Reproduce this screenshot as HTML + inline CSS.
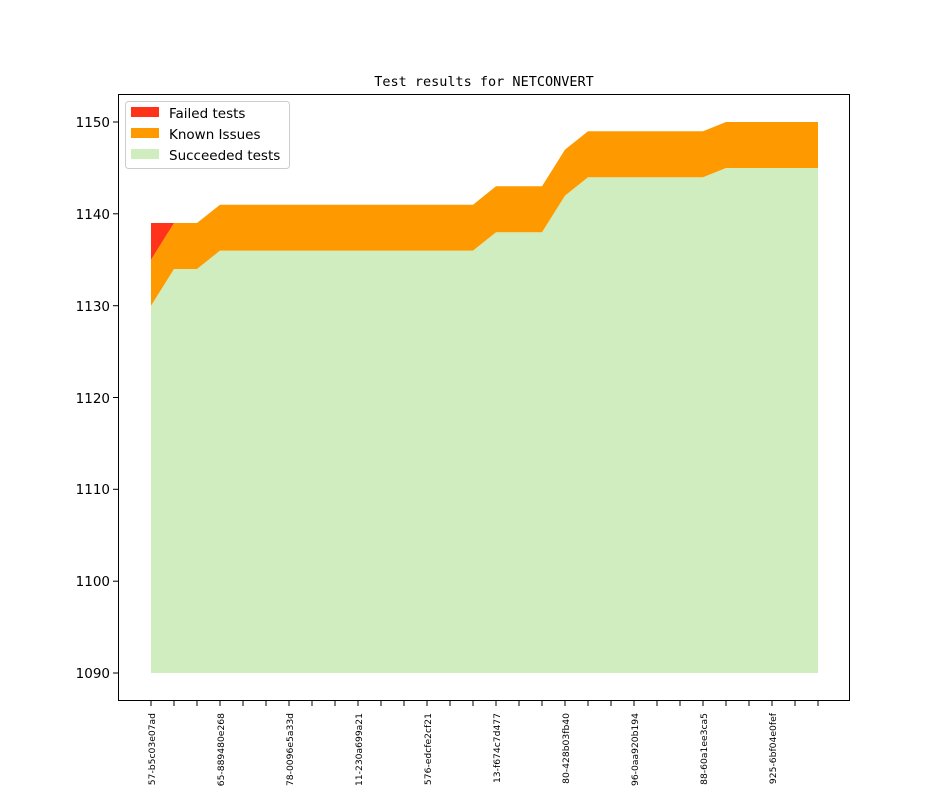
<!DOCTYPE html>
<html><head><style>html,body{margin:0;background:#fff;overflow:hidden;width:944px;height:787px}svg{display:block}</style></head><body>
<svg width="944" height="787" xmlns="http://www.w3.org/2000/svg" font-family="DejaVu Sans, sans-serif">
<rect width="944" height="787" fill="#fff"/>
<text x="484" y="86" font-family="DejaVu Sans Mono, monospace" font-size="13.5" text-anchor="middle">Test results for NETCONVERT</text>
<polygon fill="#cfedbe" points="151,673 151,305.7 174,269 197,269 220,250.6 473,250.6 496,232.3 542,232.3 565,195.6 588,177.2 703,177.2 726,168 818,168 818,673"/>
<polygon fill="#ff9900" points="151,305.7 174,269 197,269 220,250.6 473,250.6 496,232.3 542,232.3 565,195.6 588,177.2 703,177.2 726,168 818,168 818,122 726,122 703,131.3 588,131.3 565,149.6 542,186.3 496,186.3 473,204.7 220,204.7 197,223 174,223 151,259.7"/>
<polygon fill="#ff3319" points="151,259.7 174,223 151,223"/>
<rect x="118.5" y="94.5" width="731" height="606" fill="none" stroke="#000" stroke-width="1"/>
<g font-size="13.5" text-anchor="end">
<line x1="113" x2="118" y1="122" y2="122" stroke="#000"/><text x="110" y="127">1150</text>
<line x1="113" x2="118" y1="213.8" y2="213.8" stroke="#000"/><text x="110" y="219">1140</text>
<line x1="113" x2="118" y1="305.7" y2="305.7" stroke="#000"/><text x="110" y="311">1130</text>
<line x1="113" x2="118" y1="397.5" y2="397.5" stroke="#000"/><text x="110" y="403">1120</text>
<line x1="113" x2="118" y1="489.3" y2="489.3" stroke="#000"/><text x="110" y="494">1110</text>
<line x1="113" x2="118" y1="581.2" y2="581.2" stroke="#000"/><text x="110" y="586">1100</text>
<line x1="113" x2="118" y1="673" y2="673" stroke="#000"/><text x="110" y="678">1090</text>
</g>
<g stroke="#000">
<path d="M151,701v5M174,701v5M197,701v5M220,701v5M243,701v5M266,701v5M289,701v5M312,701v5M335,701v5M358,701v5M381,701v5M404,701v5M427,701v5M450,701v5M473,701v5M496,701v5M519,701v5M542,701v5M565,701v5M588,701v5M611,701v5M634,701v5M657,701v5M680,701v5M703,701v5M726,701v5M749,701v5M772,701v5M795,701v5M818,701v5"/>
</g>
<g font-size="9.2" text-anchor="end">
<text transform="translate(155,713) rotate(-90)">57-b5c03e07ad</text>
<text transform="translate(224,713) rotate(-90)">65-889480e268</text>
<text transform="translate(293,713) rotate(-90)">78-0096e5a33d</text>
<text transform="translate(362,713) rotate(-90)">11-230a699a21</text>
<text transform="translate(431,713) rotate(-90)">576-edcfe2cf21</text>
<text transform="translate(500,713) rotate(-90)">13-f674c7d477</text>
<text transform="translate(569,713) rotate(-90)">80-428b03fb40</text>
<text transform="translate(638,713) rotate(-90)">96-0aa920b194</text>
<text transform="translate(707,713) rotate(-90)">88-60a1ee3ca5</text>
<text transform="translate(776,713) rotate(-90)">925-6bf04e0fef</text>
</g>
<rect x="125.5" y="101.5" width="164" height="67" rx="3" fill="#fff" fill-opacity="0.8" stroke="#ccc"/>
<rect x="131" y="107" width="28" height="10" fill="#ff3319"/>
<rect x="131" y="128" width="28" height="10" fill="#ff9900"/>
<rect x="131" y="149" width="28" height="10" fill="#cfedbe"/>
<g font-size="13.5"><text x="169" y="118">Failed tests</text><text x="169" y="139">Known Issues</text><text x="169" y="160">Succeeded tests</text></g>
</svg>
</body></html>
